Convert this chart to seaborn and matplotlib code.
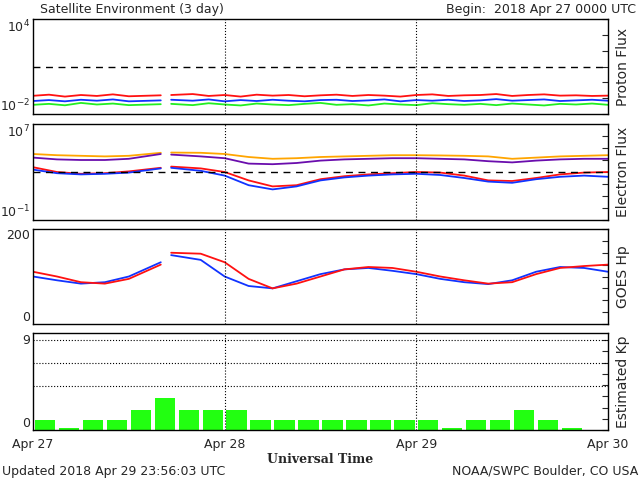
import numpy as np
import pandas as pd
import matplotlib
matplotlib.use("Agg")
import matplotlib.pyplot as plt
import seaborn as sns

nan = np.nan

# proton flux, log10, roughly every 2 hours from Apr 27 00 UTC
p_hours = [0, 2, 4, 6, 8, 10, 12, 16, 16.7, 17.3] + list(range(20, 74, 2))
p_red = [-0.85, -0.78, -0.9, -0.8, -0.86, -0.76, -0.88, -0.82, nan,
         -0.8, -0.74, -0.86, -0.8, -0.9, -0.78, -0.84, -0.8, -0.88, -0.82,
         -0.78, -0.86, -0.8, -0.84, -0.9, -0.8, -0.76, -0.86, -0.82, -0.8,
         -0.74, -0.86, -0.8, -0.76, -0.84, -0.82, -0.86, -0.84]
p_blue = [-1.18, -1.12, -1.2, -1.1, -1.16, -1.08, -1.2, -1.14, nan,
          -1.1, -1.16, -1.08, -1.2, -1.12, -1.18, -1.1, -1.16, -1.2, -1.12,
          -1.1, -1.18, -1.14, -1.08, -1.2, -1.12, -1.16, -1.1, -1.18, -1.14,
          -1.06, -1.16, -1.12, -1.08, -1.18, -1.14, -1.1, -1.16]
p_green = [-1.42, -1.36, -1.45, -1.3, -1.4, -1.34, -1.44, -1.38, nan,
           -1.36, -1.44, -1.32, -1.4, -1.46, -1.34, -1.4, -1.44, -1.36, -1.3,
           -1.42, -1.38, -1.46, -1.34, -1.4, -1.44, -1.32, -1.38, -1.42, -1.36,
           -1.44, -1.34, -1.4, -1.46, -1.36, -1.4, -1.34, -1.42]

# electron flux (log10) and GOES Hp
e_hours = [0, 3, 6, 9, 12, 16, 16.7, 17.3, 21, 24, 27, 30, 33, 36, 39, 42, 45,
           48, 51, 54, 57, 60, 63, 66, 69, 72]
e_orange = [4.5, 4.4, 4.35, 4.3, 4.35, 4.6, nan, 4.62, 4.6, 4.5, 4.25, 4.1, 4.15,
            4.25, 4.3, 4.35, 4.4, 4.4, 4.38, 4.35, 4.3, 4.1, 4.2, 4.3, 4.35, 4.4]
e_purple = [4.2, 4.05, 4.0, 4.0, 4.1, 4.5, nan, 4.45, 4.3, 4.15, 3.7, 3.65, 3.75,
            3.95, 4.05, 4.1, 4.15, 4.15, 4.1, 4.05, 3.9, 3.8, 3.95, 4.05, 4.1, 4.1]
e_red = [3.4, 3.0, 2.85, 2.9, 3.05, 3.35, nan, 3.45, 3.3, 3.0, 2.3, 1.8, 1.9,
         2.4, 2.65, 2.8, 2.9, 3.0, 2.95, 2.7, 2.3, 2.25, 2.5, 2.8, 2.95, 3.0]
e_blue = [3.2, 2.9, 2.8, 2.85, 2.95, 3.3, nan, 3.35, 3.1, 2.7, 1.9, 1.55, 1.8,
          2.3, 2.55, 2.7, 2.8, 2.85, 2.75, 2.5, 2.2, 2.1, 2.4, 2.6, 2.7, 2.6]
hp_red = [110, 100, 88, 85, 95, 125, nan, 150, 148, 130, 95, 75, 85, 100, 115,
          120, 118, 110, 100, 92, 85, 88, 105, 118, 122, 125]
hp_blue = [100, 92, 85, 88, 100, 130, nan, 145, 135, 100, 80, 75, 90, 105, 115,
           118, 112, 105, 95, 88, 84, 92, 110, 120, 118, 110]

# estimated Kp, 3-hour bins
kp_hours = [1.5, 4.5, 7.5, 10.5, 13.5, 16.5, 19.5, 22.5, 25.5, 28.5, 31.5, 34.5,
            37.5, 40.5, 43.5, 46.5, 49.5, 52.5, 55.5, 58.5, 61.5, 64.5, 67.5]
kp = [1, 0.2, 1, 1, 2, 3.2, 2, 2, 2, 1, 1, 1, 1, 1, 1, 1, 1, 0.2, 1, 1, 2, 1, 0.2]

day_ticks = [0, 24, 48, 72]
day_labels = ["Apr 27", "Apr 28", "Apr 29", "Apr 30"]

sns.set_style("white")
plt.rcParams['font.family'] = ['DejaVu Sans']
fig = plt.figure(figsize=(6.4, 4.8), dpi=100)


def panel(top, bottom):
    return fig.add_axes([33 / 640, 1 - bottom / 480, 575 / 640, (bottom - top) / 480])


def style(ax, ylabel, lo, hi):
    ax.set_xlim(0, 72)
    ax.set_xticks(range(0, 73, 3), minor=True)
    ax.set_xticks(day_ticks)
    ax.tick_params(which="both", direction="in", top=False, right=True, length=4, labelsize=9)
    ax.tick_params(axis="x", which="major", length=0)
    ax.tick_params(axis="y", pad=2)
    for s in ax.spines.values():
        s.set_color("black")
        s.set_linewidth(1)
    for h in [24, 48]:
        ax.axvline(h, color="black", ls=":", lw=0.8)
    ax.yaxis.set_label_position("right")
    ax.set_ylabel(ylabel, fontsize=10, labelpad=6)
    ax.set_xlabel("")
    labs = ax.get_yticklabels()
    ax.set_yticklabels([lo] + [""] * (len(labs) - 2) + [hi])
    labs = ax.get_yticklabels()
    labs[0].set_va("bottom")
    labs[-1].set_va("top")


def lines(ax, x, series, colors):
    for y, c in zip(series, colors):
        df = pd.DataFrame({"t": x, "v": y})
        ax.plot(df.t, df.v, color=c, lw=1.3)


# proton flux
ax1 = panel(19, 114)
lines(ax1, p_hours, [p_green, p_blue, p_red], ["#22ee22", "#1133ff", "#ff1111"])
ax1.axhline(1, color="black", ls=(0, (5, 4)), lw=1)
ax1.set_ylim(-2, 4)
ax1.set_yticks(range(-2, 5))
style(ax1, "Proton Flux", "10$^{-2}$", "10$^{4}$")
ax1.set_xticklabels([])

# electron flux
ax2 = panel(124, 220)
lines(ax2, e_hours, [e_orange, e_purple, e_red, e_blue],
      ["#ffa500", "#6a0dad", "#ff1111", "#1133ff"])
ax2.axhline(3, color="black", ls=(0, (5, 4)), lw=1)
ax2.set_ylim(-1, 7)
ax2.set_yticks(range(-1, 8))
style(ax2, "Electron Flux", "10$^{-1}$", "10$^{7}$")
ax2.set_xticklabels([])

# GOES Hp
ax3 = panel(229, 324)
lines(ax3, e_hours, [hp_blue, hp_red], ["#1133ff", "#ff1111"])
ax3.set_ylim(0, 200)
ax3.set_yticks(range(0, 201, 25))
style(ax3, "GOES Hp", "0", "200")
ax3.set_xticklabels([])

# Kp
ax4 = panel(333, 430)
df_kp = pd.DataFrame({"t": kp_hours, "kp": kp})
sns.barplot(data=df_kp, x="t", y="kp", native_scale=True, width=0.85,
            color="#22ff11", saturation=1, edgecolor="none", ax=ax4)
for g in [4.45, 6.7, 9]:
    ax4.axhline(g, color="black", ls=":", lw=0.8)
ax4.set_ylim(0, 9.7)
ax4.set_yticks(np.linspace(0, 9, 9))
style(ax4, "Estimated Kp", "0", "9")
ax4.get_yticklabels()[-1].set_va("center")
ax4.set_xticklabels(day_labels, fontsize=9)
ax4.tick_params(axis="x", pad=6)
ax4.set_xlabel("Universal Time", fontsize=9, fontweight="bold", family="serif", labelpad=1)

fig.text(40 / 640, 1 - 10 / 480, "Satellite Environment (3 day)", fontsize=9, va="center")
fig.text(636 / 640, 1 - 10 / 480, "Begin:  2018 Apr 27 0000 UTC", fontsize=9, va="center", ha="right")
fig.text(2 / 640, 1 - 471 / 480, "Updated 2018 Apr 29 23:56:03 UTC", fontsize=9, va="center")
fig.text(638 / 640, 1 - 471 / 480, "NOAA/SWPC Boulder, CO USA", fontsize=9, va="center", ha="right")

fig.savefig("out.png", dpi=100)
